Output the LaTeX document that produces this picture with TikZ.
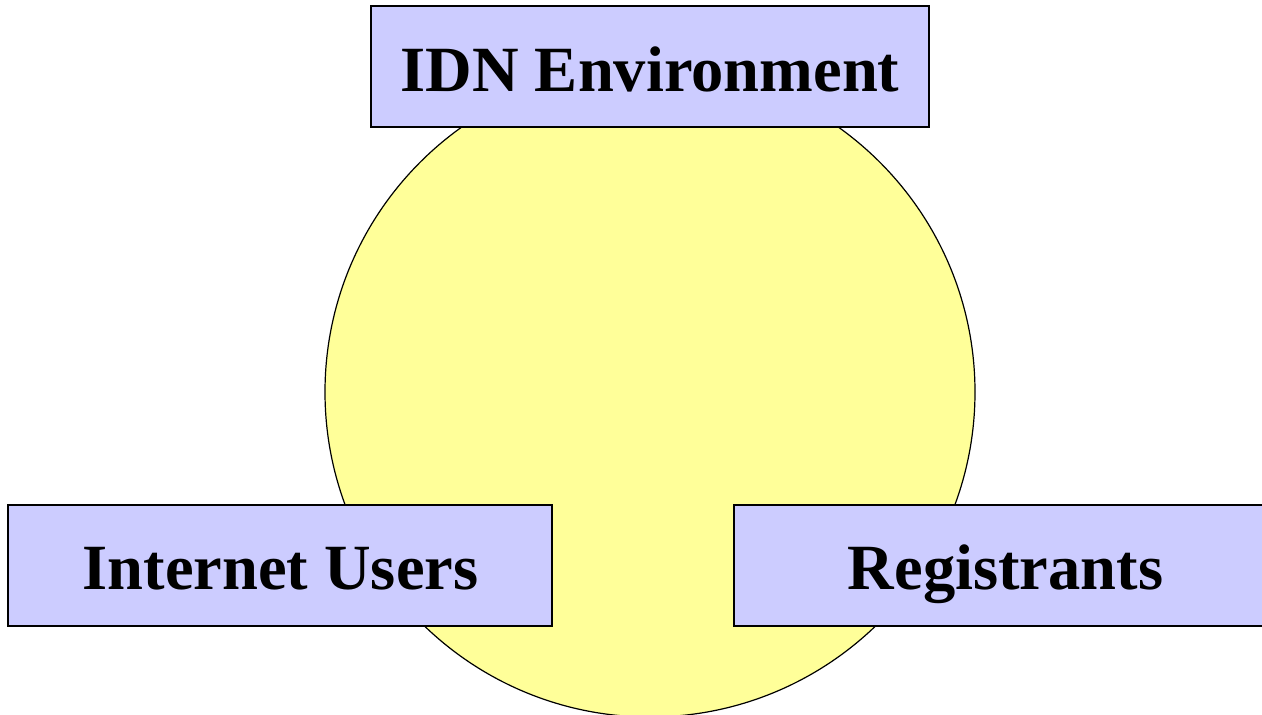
\documentclass[tikz,border=0pt]{standalone}
\usepackage{fontspec}
\setmainfont{Liberation Serif}
\definecolor{boxfill}{HTML}{CCCCFF}
\definecolor{circfill}{HTML}{FFFF99}
\begin{document}
\begin{tikzpicture}[x=1pt,y=-1pt,
  labelbox/.style={draw=black,line width=1.5pt,fill=boxfill},
  labeltext/.style={font=\fontsize{64.5}{78}\selectfont\bfseries,inner sep=0pt,anchor=base}]
\useasboundingbox (0,0) rectangle (1262,715);
\clip (0,0) rectangle (1262,715);
\node[circle,draw=black,line width=1.2pt,fill=circfill,minimum size=650pt,inner sep=0pt] (env) at (650,392) {};
\path[labelbox] (371,6) rectangle (929,127);
\path[labelbox] (8,505) rectangle (552,626);
\path[labelbox] (734,505) rectangle (1277,626);
\node[labeltext] (idn) at (650,91) {IDN Environment};
\node[labeltext] (users) at (280.5,589) {Internet Users};
\node[labeltext] (reg) at (1005.5,589) {Registrants};
\end{tikzpicture}
\end{document}
